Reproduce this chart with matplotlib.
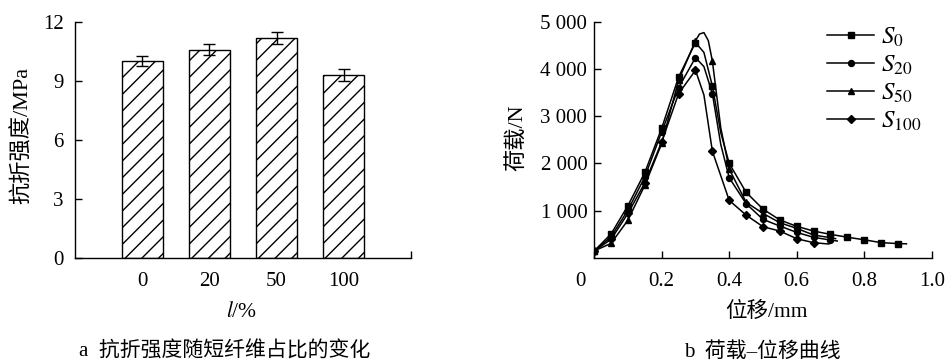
import matplotlib
matplotlib.use('Agg')
import matplotlib.pyplot as plt
from matplotlib import transforms

plt.rcParams['font.family'] = ['Liberation Serif', 'Noto Sans CJK SC']
plt.rcParams['mathtext.fontset'] = 'stix'
plt.rcParams['hatch.linewidth'] = 1.0

# ---- panel a data ----
categories = ['0', '20', '50', '100']
strength = [10.0, 10.6, 11.2, 9.3]
strength_err = [0.25, 0.3, 0.3, 0.32]
a_yticks = [0, 3, 6, 9, 12]

# ---- panel b data ----
S0_x = [0, .05, .1, .15, .2, .25, .3, .325, .35, .375, .4, .45, .5, .55, .6, .65, .7, .75, .8, .85, .9, .925]
S0_y = [150, 510, 1110, 1810, 2750, 3830, 4560, 4350, 3640, 2650, 2000, 1390, 1035, 805, 670, 570, 500, 440, 385, 325, 305, 300]
S20_x = [0, .05, .1, .15, .2, .25, .3, .325, .35, .375, .4, .45, .5, .55, .6, .65, .7, .72]
S20_y = [150, 450, 1015, 1718, 2670, 3606, 4240, 4050, 3480, 2400, 1697, 1150, 817, 676, 542, 437, 380, 360]
S50_x = [0, .05, .1, .15, .2, .25, .3, .312, .325, .338, .35, .375, .4, .45, .5, .55, .6, .65, .7, .715]
S50_y = [150, 310, 803, 1542, 2423, 3761, 4600, 4740, 4770, 4600, 4170, 2750, 1880, 1180, 944, 746, 627, 486, 430, 410]
S100_x = [0, .05, .1, .15, .2, .25, .3, .325, .35, .4, .45, .5, .55, .6, .65, .695]
S100_y = [150, 395, 945, 1592, 2458, 3479, 3972, 3450, 2260, 1218, 908, 662, 570, 408, 324, 296]
series_labels = [r'$S_{0}$', r'$S_{20}$', r'$S_{50}$', r'$S_{100}$']
b_xticks = [0, 0.2, 0.4, 0.6, 0.8, 1.0]
b_xticklabels = ['0', '0.2', '0.4', '0.6', '0.8', '1.0']
b_yticks = [1000, 2000, 3000, 4000, 5000]
b_yticklabels = ['1 000', '2 000', '3 000', '4 000', '5 000']

fig = plt.figure(figsize=(9.5, 3.62), dpi=100)

# ---------------- panel a ----------------
ax1 = fig.add_axes([0.0789, 0.2873, 0.3537, 0.6519])
pos = list(range(len(categories)))
ax1.bar(pos, strength, width=0.61, color='white', edgecolor='black',
        linewidth=1.0, hatch='//', yerr=strength_err, capsize=4,
        error_kw=dict(elinewidth=1.0, capthick=1.0, ecolor='black'))
ax1.set_xlim(-1, 4)
ax1.set_ylim(0, 12)
ax1.set_yticks(a_yticks)
ax1.set_xticks(pos)
ax1.set_xticklabels(categories)
ax1.set_xticks([4], minor=True)
ax1.tick_params(axis='x', which='major', length=0, pad=10, labelsize=15)
ax1.tick_params(axis='x', which='minor', direction='in', length=5, width=1.0)
ax1.tick_params(axis='y', direction='in', length=5, width=1.0, pad=8, labelsize=15)
for s in ['top', 'right']:
    ax1.spines[s].set_visible(False)
for s in ['left', 'bottom']:
    ax1.spines[s].set_linewidth(1.0)
fig.text(22 / 950, 1 - 135 / 362, '抗折强度/MPa', rotation=90, ha='center', va='center', fontsize=16)
fig.text(242 / 950, 1 - 312 / 362, r'$l$/%', ha='center', va='center', fontsize=15.5)
fig.text(225 / 950, 1 - 352 / 362, 'a  抗折强度随短纤维占比的变化', ha='center', va='center', fontsize=15)

# ---------------- panel b ----------------
ax2 = fig.add_axes([0.6255, 0.2873, 0.3553, 0.6527])
data = [(S0_x, S0_y, 's'), (S20_x, S20_y, 'o'), (S50_x, S50_y, '^'), (S100_x, S100_y, 'D')]
grid = [round(0.05 * k, 3) for k in range(19)]
for (xs, ys, mk), lab in zip(data, series_labels):
    idx = [i for i, v in enumerate(xs) if round(v, 3) in grid]
    ms = 3.6 if mk == 'D' else 4.3
    ax2.plot(xs, ys, color='black', linewidth=1.1, marker=mk, markersize=ms,
             markevery=idx, label=lab)
ax2.set_xlim(0, 1.0)
ax2.set_ylim(0, 5000)
ax2.set_xticks(b_xticks)
ax2.set_xticklabels(b_xticklabels)
ax2.set_yticks(b_yticks)
ax2.set_yticklabels(b_yticklabels)
ax2.tick_params(axis='x', direction='in', length=5, width=1.0, pad=10, labelsize=15)
ax2.tick_params(axis='y', direction='in', length=5, width=1.0, pad=5, labelsize=15)
off = transforms.ScaledTranslation(-14 / 100, 0, fig.dpi_scale_trans)
lbl0 = ax2.get_xticklabels()[0]
lbl0.set_transform(lbl0.get_transform() + off)
for s in ['top', 'right']:
    ax2.spines[s].set_visible(False)
for s in ['left', 'bottom']:
    ax2.spines[s].set_linewidth(1.0)
fig.text(517 / 950, 1 - 138 / 362, '荷载/N', rotation=90, ha='center', va='center', fontsize=16)
fig.text(766 / 950, 1 - 312 / 362, '位移/mm', ha='center', va='center', fontsize=15.5)
fig.text(762 / 950, 1 - 352 / 362, 'b  荷载–位移曲线', ha='center', va='center', fontsize=15)

leg = ax2.legend(loc='upper left', bbox_to_anchor=(0.689, 0.985), frameon=False,
                 fontsize=18, handlelength=1.9, handletextpad=0.25,
                 labelspacing=0.2, borderpad=0, borderaxespad=0, numpoints=1)

fig.savefig('out.png', dpi=100)
